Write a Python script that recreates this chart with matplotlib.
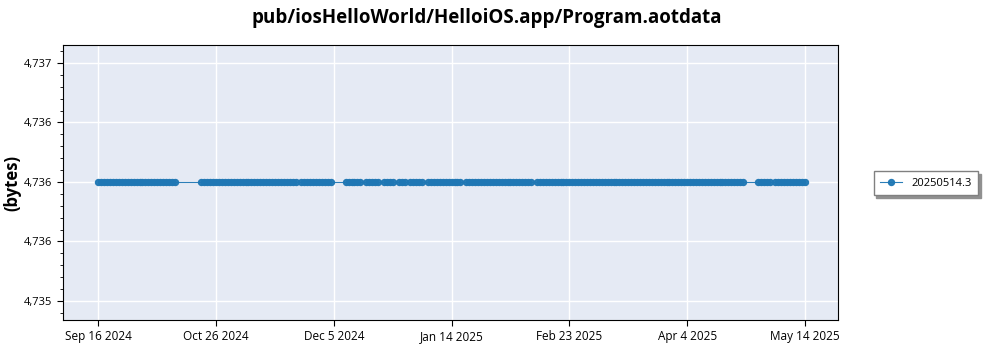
import matplotlib
matplotlib.use("Agg")
import matplotlib.pyplot as plt
import matplotlib.dates as mdates
from matplotlib.ticker import FixedLocator, AutoMinorLocator, FuncFormatter
import pandas as pd

# runs of daily builds (start, end)
runs = [
    ("2024-09-16", "2024-10-12"),
    ("2024-10-21", "2024-11-22"),
    ("2024-11-24", "2024-12-04"),
    ("2024-12-09", "2024-12-14"),
    ("2024-12-16", "2024-12-20"),
    ("2024-12-22", "2024-12-25"),
    ("2024-12-27", "2024-12-29"),
    ("2024-12-31", "2025-01-04"),
    ("2025-01-06", "2025-01-17"),
    ("2025-01-19", "2025-02-10"),
    ("2025-02-12", "2025-04-13"),
    ("2025-04-14", "2025-04-23"),
    ("2025-04-28", "2025-05-02"),
    ("2025-05-04", "2025-05-14"),
]
size_bytes = 4736
series_name = "20250514.3"
title = "pub/iosHelloWorld/HelloiOS.app/Program.aotdata"

xtick_dates = ["2024-09-16", "2024-10-26", "2024-12-05", "2025-01-14",
               "2025-02-23", "2025-04-04", "2025-05-14"]
xtick_labels = ["Sep 16 2024", "Oct 26 2024", "Dec 5 2024", "Jan 14 2025",
                "Feb 23 2025", "Apr 4 2025", "May 14 2025"]
yticks = [4735, 4735.5, 4736, 4736.5, 4737]

dates = pd.DatetimeIndex([])
for s, e in runs:
    dates = dates.append(pd.date_range(s, e, freq="D"))
values = [size_bytes] * len(dates)

plt.rcParams['font.family'] = ['Open Sans', 'DejaVu Sans']

fig = plt.figure(figsize=(10, 3.5), dpi=100)
ax = fig.add_axes([0.063, 0.0857, 0.775, 0.7855])
ax.set_facecolor('#E5EAF4')

ax.plot(dates, values, color='#1f77b4', linewidth=0.8, marker='o',
        markersize=4.3, label=series_name, alpha=0.95)

ax.set_xlim(pd.Timestamp("2024-09-04"), pd.Timestamp("2025-05-25 06:00"))
ax.set_ylim(4734.84, 4737.15)

ax.set_xticks([mdates.date2num(pd.Timestamp(d)) for d in xtick_dates])
ax.set_xticklabels(xtick_labels, fontsize=8.5)
ax.yaxis.set_major_locator(FixedLocator(yticks))
ax.yaxis.set_major_formatter(FuncFormatter(lambda v, p: f"{round(v):,}"))
ax.yaxis.set_minor_locator(AutoMinorLocator(5))
ax.tick_params(axis='y', labelsize=8, length=4)
ax.tick_params(axis='y', which='minor', length=2)
ax.tick_params(axis='x', length=4)

ax.grid(True, color='white', linewidth=1)
ax.set_axisbelow(True)
for sp in ax.spines.values():
    sp.set_color('black')
    sp.set_linewidth(0.8)

ax.set_ylabel('(bytes)', fontsize=12, fontweight='bold', labelpad=2)
fig.text(0.487, 0.949, title, fontsize=13.5, fontweight='bold',
         ha='center', va='center')

leg = fig.legend(loc='center', bbox_to_anchor=(0.926, 0.477), fontsize=8,
                 fancybox=False, shadow={'color': '#909090', 'alpha': 1},
                 edgecolor='#808080', framealpha=1,
                 handlelength=2.0, borderpad=0.6)

fig.savefig('out.png', dpi=100)
